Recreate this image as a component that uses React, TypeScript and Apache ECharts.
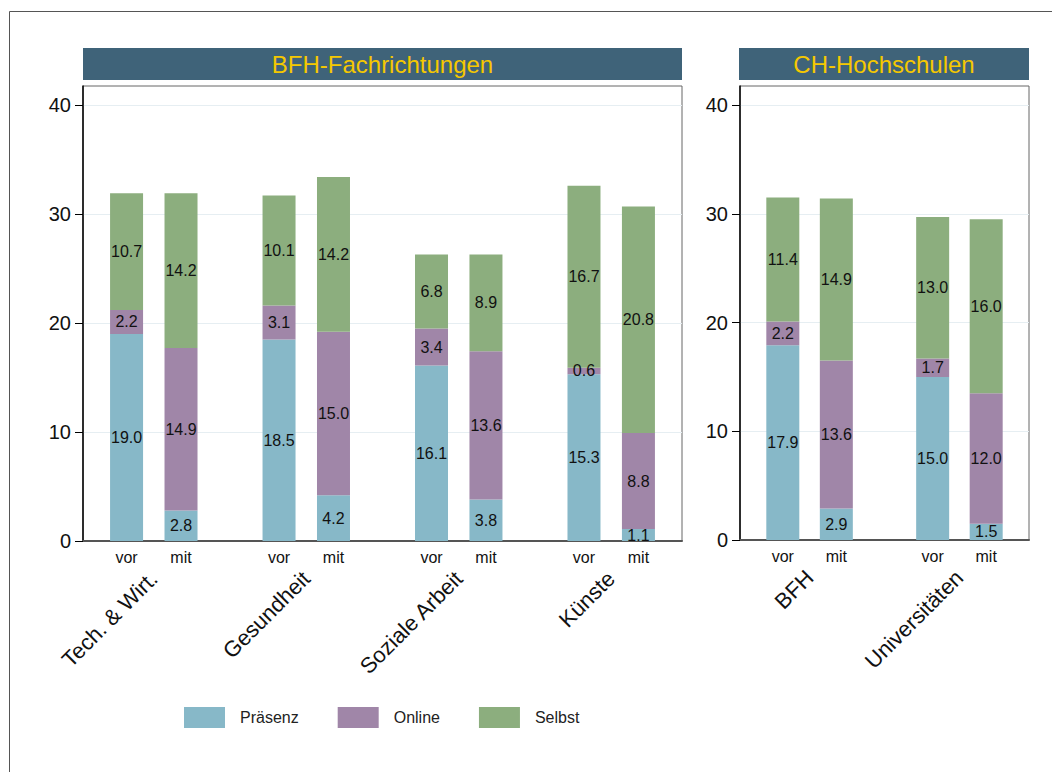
import React, { useEffect, useRef } from "react";
import * as echarts from "echarts";

const leftGroups = ["Tech. & Wirt.", "Gesundheit", "Soziale Arbeit", "Künste"];
const rightGroups = ["BFH", "Universitäten"];
const periods = ["vor", "mit"];
const seriesNames = ["Präsenz", "Online", "Selbst"];
const yTicks = [0, 10, 20, 30, 40];

// order: group1 vor, group1 mit, group2 vor, ...
const leftPraesenz = [19.0, 2.8, 18.5, 4.2, 16.1, 3.8, 15.3, 1.1];
const leftOnline = [2.2, 14.9, 3.1, 15.0, 3.4, 13.6, 0.6, 8.8];
const leftSelbst = [10.7, 14.2, 10.1, 14.2, 6.8, 8.9, 16.7, 20.8];

const rightPraesenz = [17.9, 2.9, 15.0, 1.5];
const rightOnline = [2.2, 13.6, 1.7, 12.0];
const rightSelbst = [11.4, 14.9, 13.0, 16.0];

const colors = ["#87b8c8", "#a086a8", "#8cae7e"];
const FONT = "'Liberation Sans', Arial, Helvetica, sans-serif";
const GROUP_STEP = 2.8;

function r1(v: number) {
  return Math.round(v * 100) / 100;
}

function buildPanel(gi: number, groups: string[], values: number[][]) {
  const positions: number[] = [];
  const posLabels: string[] = [];
  groups.forEach((_, g) => {
    periods.forEach((p, k) => {
      positions.push(r1(1 + g * GROUP_STEP + k));
      posLabels.push(p);
    });
  });
  const centers = groups.map((_, g) => r1(1.5 + g * GROUP_STEP));
  const min = 0.2;
  const max = r1(groups.length * GROUP_STEP);
  const findIdx = (arr: number[], v: number) =>
    arr.findIndex((a) => Math.abs(a - v) < 0.01);

  const xAxes = [
    {
      type: "value",
      gridIndex: gi,
      min,
      max,
      splitLine: { show: false },
      axisTick: { show: false },
      axisLine: { show: true, onZero: false, lineStyle: { color: "#555", width: 2 } },
      axisLabel: {
        customValues: positions,
        formatter: (v: number) => {
          const i = findIdx(positions, v);
          return i >= 0 ? posLabels[i] : "";
        },
        fontSize: 16,
        margin: 8,
        color: "#111",
        fontFamily: FONT,
      },
    },
    {
      type: "value",
      gridIndex: gi,
      min,
      max,
      position: "bottom",
      splitLine: { show: false },
      axisTick: { show: false },
      axisLine: { show: false },
      axisLabel: {
        customValues: centers,
        formatter: (v: number) => {
          const i = findIdx(centers, v);
          return i >= 0 ? groups[i] : "";
        },
        rotate: 45,
        fontSize: 22,
        margin: 34,
        color: "#111",
        fontFamily: FONT,
      },
    },
  ];

  const yAxis = {
    type: "value",
    gridIndex: gi,
    min: 0,
    max: 41.75,
    interval: 10,
    axisLine: { show: true, lineStyle: { color: "#000", width: 1.5 } },
    axisTick: {
      show: true,
      length: 8,
      customValues: yTicks,
      lineStyle: { color: "#000", width: 1 },
    },
    axisLabel: {
      customValues: yTicks,
      fontSize: 20,
      margin: 12,
      color: "#111",
      fontFamily: FONT,
    },
    splitLine: { show: true, lineStyle: { color: "#e6eef2", width: 1 } },
  };

  // data is [value, position] so that the stacked dimension is the value
  const series = values.map((arr, si) => ({
    name: seriesNames[si],
    type: "bar",
    xAxisIndex: gi * 2,
    yAxisIndex: gi,
    stack: "panel" + gi,
    barWidth: 33,
    encode: { x: 1, y: 0 },
    data: positions.map((x, i) => [arr[i], x]),
    itemStyle: { color: colors[si] },
    label: {
      show: true,
      position: "inside",
      formatter: (p: any) => Number(p.value[0]).toFixed(1),
      color: "#111",
      fontSize: 16,
      fontFamily: FONT,
      textBorderWidth: 0,
    },
  }));

  return { xAxes, yAxis, series };
}

export default function App() {
  const ref = useRef<HTMLDivElement>(null);
  useEffect(() => {
    document.body.style.margin = "0";
    const chart = echarts.init(ref.current!, null, { renderer: "svg" });
    const left = buildPanel(0, leftGroups, [leftPraesenz, leftOnline, leftSelbst]);
    const right = buildPanel(1, rightGroups, [rightPraesenz, rightOnline, rightSelbst]);

    const option: any = {
      animation: false,
      backgroundColor: "#fff",
      textStyle: { fontFamily: FONT },
      grid: [
        {
          left: 83,
          top: 86,
          width: 599,
          height: 455,
          show: true,
          borderColor: "#666",
          borderWidth: 1,
          containLabel: false,
        },
        {
          left: 740,
          top: 86,
          width: 289,
          height: 454,
          show: true,
          borderColor: "#666",
          borderWidth: 1,
          containLabel: false,
        },
      ],
      xAxis: [...left.xAxes, ...right.xAxes],
      yAxis: [left.yAxis, right.yAxis],
      series: [...left.series, ...right.series],
      legend: {
        data: seriesNames,
        left: 184,
        top: 707,
        padding: 0,
        icon: "rect",
        itemWidth: 41,
        itemHeight: 21,
        itemGap: 39,
        textStyle: {
          fontSize: 16,
          color: "#222",
          fontFamily: FONT,
          padding: [0, 0, 0, 10],
        },
        selectedMode: false,
      },
      graphic: [
        {
          type: "rect",
          shape: { x: 9.5, y: 11.5, width: 1100, height: 800 },
          style: { fill: "none", stroke: "#555", lineWidth: 1 },
          silent: true,
        },
        {
          type: "rect",
          shape: { x: 83, y: 48, width: 599, height: 32 },
          style: { fill: "#3f6379" },
          silent: true,
        },
        {
          type: "text",
          x: 382.5,
          y: 64,
          style: {
            text: "BFH-Fachrichtungen",
            fill: "#f5c800",
            fontSize: 24,
            fontFamily: FONT,
            align: "center",
            verticalAlign: "middle",
          },
          silent: true,
        },
        {
          type: "rect",
          shape: { x: 739, y: 48, width: 290, height: 32 },
          style: { fill: "#3f6379" },
          silent: true,
        },
        {
          type: "text",
          x: 884,
          y: 64,
          style: {
            text: "CH-Hochschulen",
            fill: "#f5c800",
            fontSize: 24,
            fontFamily: FONT,
            align: "center",
            verticalAlign: "middle",
          },
          silent: true,
        },
      ],
    };
    chart.setOption(option);
    return () => chart.dispose();
  }, []);
  return <div ref={ref} style={{ width: 1052, height: 772 }} />;
}
